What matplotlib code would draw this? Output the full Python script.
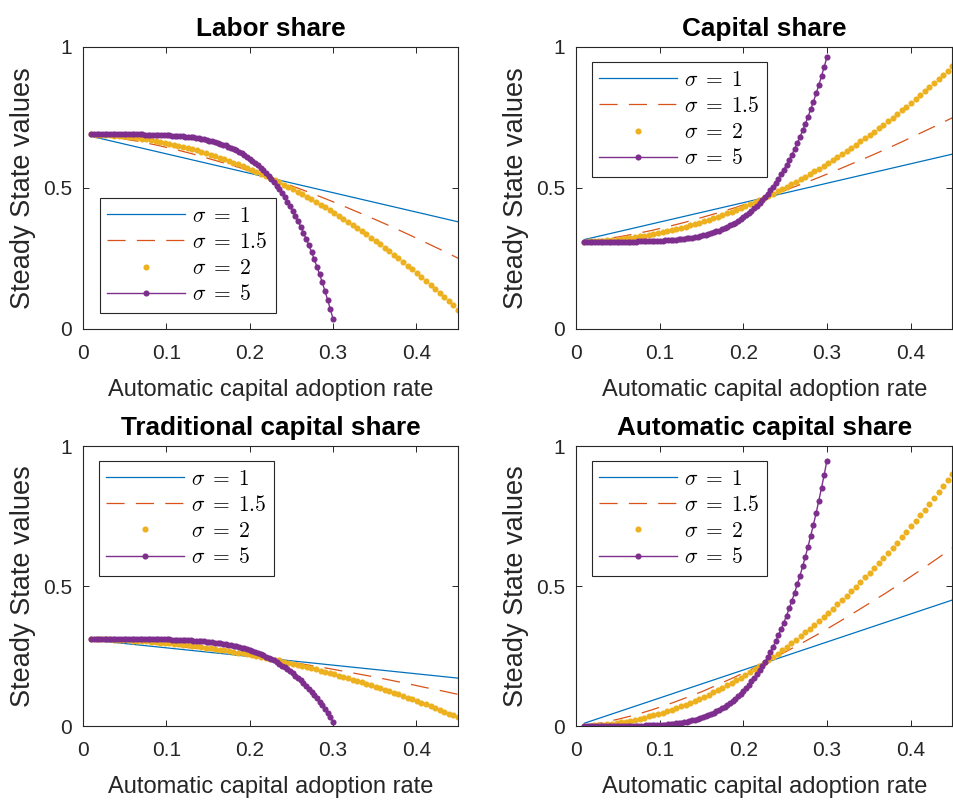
import numpy as np
import matplotlib
matplotlib.use('Agg')
import matplotlib.pyplot as plt

plt.rcParams['font.family'] = ['Liberation Sans', 'DejaVu Sans']
plt.rcParams['mathtext.fontset'] = 'cm'

# MATLAB default line colours
C_BLUE = '#0072BD'
C_ORANGE = '#D95319'
C_YELLOW = '#EDB120'
C_PURPLE = '#7E2F8E'
AX_GRAY = '#262626'

# automatic capital adoption rate grids
rate_s1 = [0.01, 0.45]
rate_s15 = [0.01, 0.03, 0.05, 0.07, 0.09, 0.11, 0.13, 0.15, 0.17, 0.19, 0.21, 0.23,
            0.25, 0.27, 0.29, 0.31, 0.33, 0.35, 0.37, 0.39, 0.41, 0.43, 0.45]
rate_s2 = np.linspace(0.01, 0.45, 81)
rate_s5 = np.linspace(0.01, 0.30, 91)

# ---- labor share ----
labor_s1 = [0.683, 0.380]
labor_s15 = [0.689, 0.682, 0.674, 0.663, 0.651, 0.637, 0.622, 0.605, 0.588, 0.570, 0.550, 0.530,
             0.508, 0.486, 0.463, 0.439, 0.414, 0.389, 0.363, 0.336, 0.308, 0.280, 0.251]
labor_s2 = [0.690, 0.689, 0.689, 0.688, 0.687, 0.686, 0.684, 0.683, 0.681, 0.679,
            0.677, 0.675, 0.672, 0.670, 0.667, 0.664, 0.661, 0.657, 0.654, 0.650,
            0.646, 0.642, 0.637, 0.633, 0.628, 0.623, 0.618, 0.613, 0.608, 0.602,
            0.596, 0.590, 0.584, 0.578, 0.571, 0.564, 0.557, 0.550, 0.543, 0.535,
            0.528, 0.520, 0.512, 0.504, 0.495, 0.487, 0.478, 0.469, 0.460, 0.450,
            0.441, 0.431, 0.421, 0.411, 0.401, 0.391, 0.380, 0.369, 0.358, 0.347,
            0.335, 0.324, 0.312, 0.300, 0.288, 0.276, 0.263, 0.251, 0.238, 0.225,
            0.212, 0.198, 0.185, 0.171, 0.157, 0.143, 0.128, 0.114, 0.099, 0.084,
            0.069]
labor_s5 = [0.690, 0.690, 0.690, 0.690, 0.690, 0.690, 0.690, 0.690, 0.690, 0.690,
            0.690, 0.690, 0.690, 0.690, 0.690, 0.690, 0.690, 0.690, 0.690, 0.690,
            0.689, 0.689, 0.689, 0.689, 0.689, 0.688, 0.688, 0.688, 0.687, 0.687,
            0.686, 0.686, 0.685, 0.684, 0.683, 0.682, 0.681, 0.680, 0.679, 0.678,
            0.676, 0.674, 0.673, 0.671, 0.668, 0.666, 0.663, 0.660, 0.657, 0.654,
            0.651, 0.647, 0.642, 0.638, 0.633, 0.628, 0.623, 0.617, 0.610, 0.604,
            0.596, 0.589, 0.581, 0.572, 0.563, 0.553, 0.543, 0.532, 0.520, 0.508,
            0.495, 0.481, 0.467, 0.451, 0.435, 0.418, 0.400, 0.382, 0.362, 0.341,
            0.319, 0.296, 0.273, 0.247, 0.221, 0.194, 0.165, 0.135, 0.103, 0.070,
            0.036]

# ---- capital share ----
capital_s1 = [0.317, 0.620]
capital_s15 = [0.311, 0.318, 0.326, 0.337, 0.349, 0.363, 0.378, 0.395, 0.412, 0.430, 0.450, 0.470,
               0.492, 0.514, 0.537, 0.561, 0.586, 0.611, 0.637, 0.664, 0.692, 0.720, 0.749]
capital_s2 = [0.310, 0.311, 0.311, 0.312, 0.313, 0.314, 0.316, 0.317, 0.319, 0.321,
              0.323, 0.325, 0.328, 0.330, 0.333, 0.336, 0.339, 0.343, 0.346, 0.350,
              0.354, 0.358, 0.363, 0.367, 0.372, 0.377, 0.382, 0.387, 0.392, 0.398,
              0.404, 0.410, 0.416, 0.422, 0.429, 0.436, 0.443, 0.450, 0.457, 0.465,
              0.472, 0.480, 0.488, 0.496, 0.505, 0.513, 0.522, 0.531, 0.540, 0.550,
              0.559, 0.569, 0.579, 0.589, 0.599, 0.609, 0.620, 0.631, 0.642, 0.653,
              0.665, 0.676, 0.688, 0.700, 0.712, 0.724, 0.737, 0.749, 0.762, 0.775,
              0.788, 0.802, 0.815, 0.829, 0.843, 0.857, 0.872, 0.886, 0.901, 0.916,
              0.931]
capital_s5 = [0.310, 0.310, 0.310, 0.310, 0.310, 0.310, 0.310, 0.310, 0.310, 0.310,
              0.310, 0.310, 0.310, 0.310, 0.310, 0.310, 0.310, 0.310, 0.310, 0.310,
              0.311, 0.311, 0.311, 0.311, 0.311, 0.312, 0.312, 0.312, 0.313, 0.313,
              0.314, 0.314, 0.315, 0.316, 0.317, 0.318, 0.319, 0.320, 0.321, 0.322,
              0.324, 0.326, 0.327, 0.329, 0.332, 0.334, 0.337, 0.340, 0.343, 0.346,
              0.349, 0.353, 0.358, 0.362, 0.367, 0.372, 0.377, 0.383, 0.390, 0.396,
              0.404, 0.411, 0.419, 0.428, 0.437, 0.447, 0.457, 0.468, 0.480, 0.492,
              0.505, 0.519, 0.533, 0.549, 0.565, 0.582, 0.600, 0.618, 0.638, 0.659,
              0.681, 0.704, 0.727, 0.753, 0.779, 0.806, 0.835, 0.865, 0.897, 0.930,
              0.964]

# ---- traditional capital share ----
trad_s1 = [0.307, 0.171]
trad_s15 = [0.309, 0.307, 0.303, 0.298, 0.292, 0.286, 0.279, 0.272, 0.264, 0.256, 0.247, 0.238,
            0.228, 0.218, 0.208, 0.197, 0.186, 0.175, 0.163, 0.151, 0.138, 0.126, 0.113]
trad_s2 = [0.310, 0.310, 0.309, 0.309, 0.309, 0.308, 0.307, 0.307, 0.306, 0.305,
           0.304, 0.303, 0.302, 0.301, 0.300, 0.298, 0.297, 0.295, 0.294, 0.292,
           0.290, 0.288, 0.286, 0.284, 0.282, 0.280, 0.278, 0.275, 0.273, 0.270,
           0.268, 0.265, 0.262, 0.259, 0.257, 0.253, 0.250, 0.247, 0.244, 0.241,
           0.237, 0.234, 0.230, 0.226, 0.223, 0.219, 0.215, 0.211, 0.207, 0.202,
           0.198, 0.194, 0.189, 0.185, 0.180, 0.175, 0.171, 0.166, 0.161, 0.156,
           0.151, 0.146, 0.140, 0.135, 0.129, 0.124, 0.118, 0.113, 0.107, 0.101,
           0.095, 0.089, 0.083, 0.077, 0.070, 0.064, 0.058, 0.051, 0.044, 0.038,
           0.031]
trad_s5 = [0.310, 0.310, 0.310, 0.310, 0.310, 0.310, 0.310, 0.310, 0.310, 0.310,
           0.310, 0.310, 0.310, 0.310, 0.310, 0.310, 0.310, 0.310, 0.310, 0.310,
           0.310, 0.310, 0.310, 0.309, 0.309, 0.309, 0.309, 0.309, 0.309, 0.309,
           0.308, 0.308, 0.308, 0.307, 0.307, 0.307, 0.306, 0.306, 0.305, 0.304,
           0.304, 0.303, 0.302, 0.301, 0.300, 0.299, 0.298, 0.297, 0.295, 0.294,
           0.292, 0.291, 0.289, 0.287, 0.284, 0.282, 0.280, 0.277, 0.274, 0.271,
           0.268, 0.265, 0.261, 0.257, 0.253, 0.248, 0.244, 0.239, 0.234, 0.228,
           0.222, 0.216, 0.210, 0.203, 0.196, 0.188, 0.180, 0.171, 0.163, 0.153,
           0.143, 0.133, 0.122, 0.111, 0.099, 0.087, 0.074, 0.060, 0.046, 0.032,
           0.016]

# ---- automatic capital share ----
auto_s1 = [0.010, 0.450]
auto_s15 = [0.002, 0.011, 0.024, 0.039, 0.057, 0.077, 0.099, 0.122, 0.148, 0.175, 0.203, 0.233,
            0.264, 0.296, 0.329, 0.364, 0.400, 0.437, 0.474, 0.513, 0.553, 0.594, 0.636]
auto_s2 = [0.000, 0.001, 0.002, 0.003, 0.005, 0.006, 0.008, 0.010, 0.013, 0.016,
           0.019, 0.022, 0.026, 0.030, 0.034, 0.038, 0.043, 0.048, 0.053, 0.058,
           0.064, 0.070, 0.076, 0.083, 0.090, 0.097, 0.104, 0.112, 0.120, 0.128,
           0.136, 0.145, 0.154, 0.163, 0.172, 0.182, 0.192, 0.203, 0.213, 0.224,
           0.235, 0.246, 0.258, 0.270, 0.282, 0.295, 0.307, 0.320, 0.334, 0.347,
           0.361, 0.375, 0.389, 0.404, 0.419, 0.434, 0.449, 0.465, 0.481, 0.497,
           0.514, 0.531, 0.548, 0.565, 0.582, 0.600, 0.618, 0.637, 0.655, 0.674,
           0.693, 0.713, 0.733, 0.753, 0.773, 0.793, 0.814, 0.835, 0.857, 0.878,
           0.900]
auto_s5 = [0.000, 0.000, 0.000, 0.000, 0.000, 0.000, 0.000, 0.000, 0.000, 0.000,
           0.000, 0.000, 0.000, 0.000, 0.000, 0.000, 0.000, 0.000, 0.001, 0.001,
           0.001, 0.001, 0.001, 0.002, 0.002, 0.002, 0.003, 0.003, 0.004, 0.005,
           0.005, 0.006, 0.007, 0.008, 0.010, 0.011, 0.012, 0.014, 0.016, 0.018,
           0.020, 0.023, 0.025, 0.028, 0.031, 0.035, 0.039, 0.043, 0.047, 0.052,
           0.057, 0.063, 0.069, 0.075, 0.082, 0.090, 0.098, 0.106, 0.115, 0.125,
           0.136, 0.147, 0.159, 0.171, 0.184, 0.199, 0.214, 0.229, 0.246, 0.264,
           0.283, 0.303, 0.324, 0.346, 0.369, 0.394, 0.420, 0.447, 0.476, 0.506,
           0.537, 0.570, 0.605, 0.641, 0.680, 0.719, 0.761, 0.805, 0.851, 0.898,
           0.948]

sigma_labels = [r'$\sigma\;=\;1$', r'$\sigma\;=\;1.5$', r'$\sigma\;=\;2$', r'$\sigma\;=\;5$']
x_ticks = [0, 0.1, 0.2, 0.3, 0.4]
x_tick_labels = ['0', '0.1', '0.2', '0.3', '0.4']
y_ticks = [0, 0.5, 1]
y_tick_labels = ['0', '0.5', '1']


def draw_panel(ax, title, s1, s15, s2, s5, legend_lower):
    ax.plot(rate_s1, s1, color=C_BLUE, lw=0.9, label=sigma_labels[0])
    ax.plot(rate_s15, s15, color=C_ORANGE, lw=0.9, dashes=(14.5, 9), label=sigma_labels[1])
    ax.plot(rate_s2, s2, ls='none', marker='o', ms=4.4, mew=0, color=C_YELLOW,
            label=sigma_labels[2])
    ax.plot(rate_s5, s5, color=C_PURPLE, lw=1.0, marker='o', ms=4.4, mew=0,
            label=sigma_labels[3])

    ax.set_xlim(0, 0.45)
    ax.set_ylim(0, 1)
    ax.set_xticks(x_ticks)
    ax.set_xticklabels(x_tick_labels)
    ax.set_yticks(y_ticks)
    ax.set_yticklabels(y_tick_labels)
    ax.tick_params(direction='in', length=4.5, width=0.7, colors=AX_GRAY,
                   labelsize=15, top=True, right=True)
    ax.tick_params(axis='x', pad=11)
    ax.tick_params(axis='y', pad=8)
    for sp in ax.spines.values():
        sp.set_color(AX_GRAY)
        sp.set_linewidth(0.8)

    ax.set_title(title, fontsize=18.8, fontweight='bold', pad=8)
    ax.set_xlabel('Automatic capital adoption rate', fontsize=17, color=AX_GRAY, labelpad=11)
    ax.set_ylabel('Steady State values', fontsize=19.5, color=AX_GRAY, labelpad=5)

    if legend_lower:
        loc, anchor = 'lower left', (0.045, 0.057)
    else:
        loc, anchor = 'upper left', (0.042, 0.946)
    leg = ax.legend(loc=loc, bbox_to_anchor=anchor, borderaxespad=0, fontsize=15.5,
                    fancybox=False, framealpha=1, edgecolor=AX_GRAY, numpoints=1,
                    handlelength=3.6, handletextpad=0.35, labelspacing=0.24,
                    borderpad=0.35)
    leg.get_frame().set_linewidth(0.8)


fig = plt.figure(figsize=(9.54, 8.0), dpi=100)
ax_labor = fig.add_axes([0.0870, 0.5888, 0.3931, 0.3525])
ax_capital = fig.add_axes([0.6038, 0.5888, 0.3945, 0.3525])
ax_trad = fig.add_axes([0.0870, 0.0925, 0.3931, 0.3500])
ax_auto = fig.add_axes([0.6038, 0.0925, 0.3945, 0.3500])

draw_panel(ax_labor, 'Labor share', labor_s1, labor_s15, labor_s2, labor_s5, True)
draw_panel(ax_capital, 'Capital share', capital_s1, capital_s15, capital_s2, capital_s5, False)
draw_panel(ax_trad, 'Traditional capital share', trad_s1, trad_s15, trad_s2, trad_s5, False)
draw_panel(ax_auto, 'Automatic capital share', auto_s1, auto_s15, auto_s2, auto_s5, False)

fig.savefig('out.png', dpi=100, facecolor='white')
